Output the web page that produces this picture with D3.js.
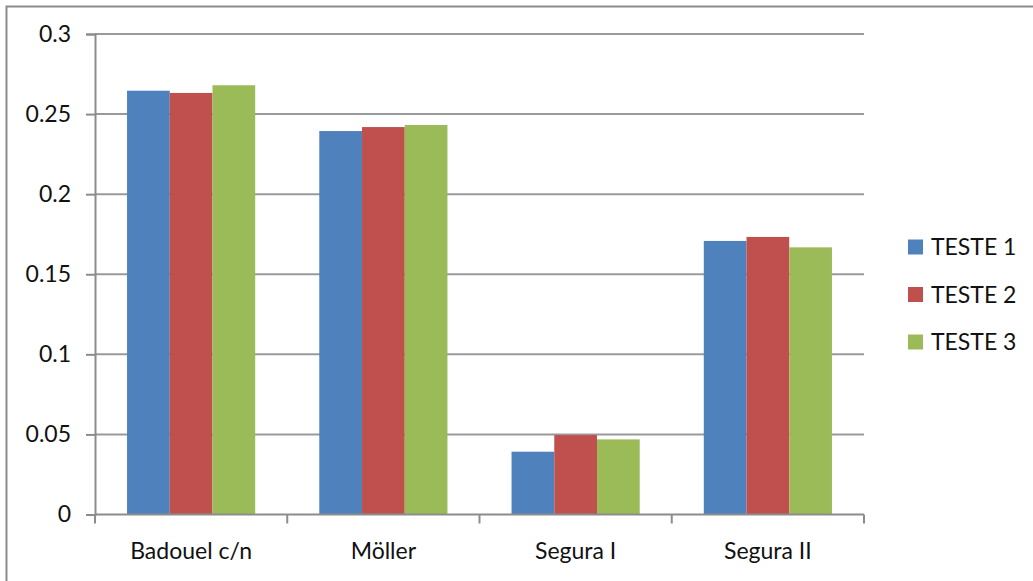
<!DOCTYPE html>
<html>
<head>
<meta charset="utf-8">
<script src="https://cdn.jsdelivr.net/npm/d3@7"></script>
<style>
  html, body { margin: 0; padding: 0; background: #fff; }
  svg { display: block; }
  text { font-family: Lato, "Liberation Sans", sans-serif; fill: #111; }
</style>
</head>
<body>
<svg id="chart" width="1033" height="581"></svg>
<script>
// Chart data
const categories = ["Badouel c/n", "Möller", "Segura I", "Segura II"];
const seriesNames = ["TESTE 1", "TESTE 2", "TESTE 3"];
const teste1 = [0.2646, 0.2394, 0.0392, 0.1708];
const teste2 = [0.2632, 0.2419, 0.0496, 0.1733];
const teste3 = [0.2680, 0.2432, 0.0469, 0.1668];
const yTicks = [0, 0.05, 0.1, 0.15, 0.2, 0.25, 0.3];
const yTickLabels = ["0", "0.05", "0.1", "0.15", "0.2", "0.25", "0.3"];

const seriesValues = [teste1, teste2, teste3];
const colors = ["#4F81BD", "#C0504D", "#9BBB59"];

const svg = d3.select("#chart");

// Outer chart frame (top and left edges visible)
svg.append("path")
  .attr("d", "M6.5,590 V6.5 H1040")
  .attr("fill", "none")
  .attr("stroke", "#8c8c8c")
  .attr("stroke-width", 2);

const plotLeft = 95, plotRight = 864, plotTop = 34, plotBottom = 514.5;

const y = d3.scaleLinear().domain([0, 0.3]).range([plotBottom, plotTop]);
const x = d3.scaleBand().domain(categories).range([plotLeft, plotRight])
  .paddingInner(1 / 3).paddingOuter(1 / 6);
const xSub = d3.scaleBand().domain(seriesNames).range([0, x.bandwidth()]);

// Horizontal gridlines
svg.append("g")
  .selectAll("line")
  .data(yTicks.filter(d => d > 0))
  .join("line")
  .attr("x1", plotLeft).attr("x2", plotRight)
  .attr("y1", d => y(d)).attr("y2", d => y(d))
  .attr("stroke", "#9a9a9a")
  .attr("stroke-width", 2);

// Bars
const groups = svg.append("g")
  .selectAll("g")
  .data(categories)
  .join("g")
  .attr("transform", d => `translate(${x(d)},0)`);

groups.selectAll("rect")
  .data((c, i) => seriesNames.map((s, k) => ({ s, k, v: seriesValues[k][i] })))
  .join("rect")
  .attr("x", d => xSub(d.s))
  .attr("width", xSub.bandwidth())
  .attr("y", d => y(d.v))
  .attr("height", d => y(0) - y(d.v))
  .attr("fill", d => colors[d.k]);

// Y axis
const yAxis = d3.axisLeft(y)
  .tickValues(yTicks)
  .tickFormat((d, i) => yTickLabels[i])
  .tickSize(9)
  .tickPadding(15);
const gy = svg.append("g")
  .attr("transform", `translate(${plotLeft},0)`)
  .call(yAxis);
gy.select(".domain").attr("stroke", "#8c8c8c").attr("stroke-width", 2);
gy.selectAll(".tick line").attr("stroke", "#8c8c8c").attr("stroke-width", 2);
gy.selectAll(".tick text")
  .style("font-family", "Lato, 'Liberation Sans', sans-serif")
  .style("font-size", "23px")
  .attr("fill", "#111");

// X axis: ticks at category boundaries
const boundaries = d3.range(categories.length + 1)
  .map(i => plotLeft + i * x.step());
svg.append("line")
  .attr("x1", plotLeft).attr("x2", plotRight)
  .attr("y1", plotBottom).attr("y2", plotBottom)
  .attr("stroke", "#8c8c8c").attr("stroke-width", 2);
svg.append("g")
  .selectAll("line")
  .data(boundaries)
  .join("line")
  .attr("x1", d => d).attr("x2", d => d)
  .attr("y1", plotBottom).attr("y2", plotBottom + 9)
  .attr("stroke", "#8c8c8c").attr("stroke-width", 2);

svg.append("g")
  .selectAll("text")
  .data(categories)
  .join("text")
  .attr("x", d => x(d) + x.bandwidth() / 2)
  .attr("y", 551)
  .attr("dy", "0.35em")
  .attr("text-anchor", "middle")
  .style("font-size", "23px")
  .text(d => d);

// Legend
const legend = svg.append("g")
  .selectAll("g")
  .data(seriesNames)
  .join("g")
  .attr("transform", (d, i) => `translate(908,${247 + i * 47.5})`);
legend.append("rect")
  .attr("x", 0).attr("y", -7.5)
  .attr("width", 15).attr("height", 15)
  .attr("fill", (d, i) => colors[i]);
legend.append("text")
  .attr("x", 23).attr("y", 0)
  .attr("dy", "0.35em")
  .style("font-size", "23px")
  .text(d => d);
</script>
</body>
</html>
